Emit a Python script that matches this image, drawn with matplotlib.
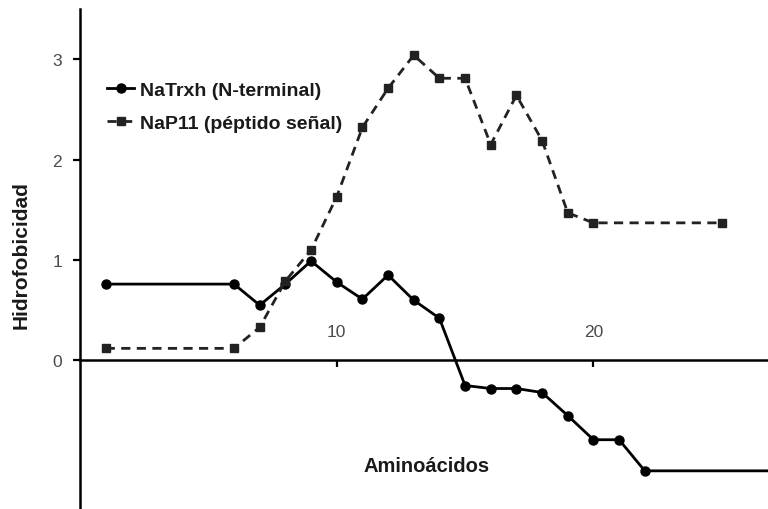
import matplotlib
matplotlib.use("Agg")
import matplotlib.pyplot as plt

plt.rcParams['font.family'] = ['Liberation Sans', 'DejaVu Sans']

# Data
trxh_x = [1, 6, 7, 8, 9, 10, 11, 12, 13, 14, 15, 16, 17, 18, 19, 20, 21, 22, 27]
trxh_y = [0.76, 0.76, 0.55, 0.76, 0.99, 0.78, 0.61, 0.85, 0.60, 0.42,
          -0.25, -0.28, -0.28, -0.32, -0.55, -0.79, -0.79, -1.10, -1.10]
p11_x = [1, 6, 7, 8, 9, 10, 11, 12, 13, 14, 15, 16, 17, 18, 19, 20, 25]
p11_y = [0.12, 0.12, 0.33, 0.79, 1.10, 1.63, 2.32, 2.71, 3.04, 2.81, 2.81,
         2.15, 2.64, 2.19, 1.47, 1.37, 1.37]
x_ticks = [10, 20]
y_ticks = [0, 1, 2, 3]
trxh_label = "NaTrxh (N-terminal)"
p11_label = "NaP11 (péptido señal)"

fig = plt.figure(figsize=(7.68, 5.10), dpi=100)
ax = fig.add_axes([80 / 768, 0.0, 1 - 80 / 768, 500 / 510])

ax.plot(trxh_x, trxh_y, color='black', lw=2.0, marker='o', markersize=6.5,
        markevery=list(range(len(trxh_x) - 1)), label=trxh_label, zorder=3)
ax.plot(p11_x, p11_y, color='#222222', lw=2.0, linestyle=(0, (3.3, 2.3)),
        marker='s', markersize=6.2, label=p11_label, zorder=3)

ax.set_xlim(0, 26.8)
ax.set_ylim(-1.48, 3.5)

for s in ['top', 'right']:
    ax.spines[s].set_visible(False)
ax.spines['bottom'].set_position(('data', 0))
ax.spines['bottom'].set_linewidth(1.8)
ax.spines['left'].set_linewidth(1.8)

ax.set_xticks(x_ticks)
ax.set_xticklabels([str(t) for t in x_ticks])
ax.set_yticks(y_ticks)
ax.set_yticklabels([str(t) for t in y_ticks])
ax.tick_params(axis='x', direction='out', length=5, width=1.6, pad=-31,
               labelsize=12.5, labelcolor='#4a4a4a')
ax.tick_params(axis='y', direction='out', length=5, width=1.6, pad=8,
               labelsize=12.5, labelcolor='#4a4a4a')

ax.set_ylabel("Hidrofobicidad", fontsize=15, fontweight='bold', color='#1a1a1a')
ax.yaxis.set_label_coords(-0.072, 0.51)

ax.text(0.503, 0.086, "Aminoácidos", transform=ax.transAxes, ha='center',
        va='center', fontsize=14.5, fontweight='bold', color='#1a1a1a')

leg = ax.legend(loc='upper left', bbox_to_anchor=(0.028, 0.871), frameon=False,
                fontsize=14, handlelength=1.4, handletextpad=0.3,
                labelspacing=0.8, borderaxespad=0)
for t in leg.get_texts():
    t.set_fontweight('bold')
    t.set_color('#1a1a1a')

fig.savefig("out.png", dpi=100)
